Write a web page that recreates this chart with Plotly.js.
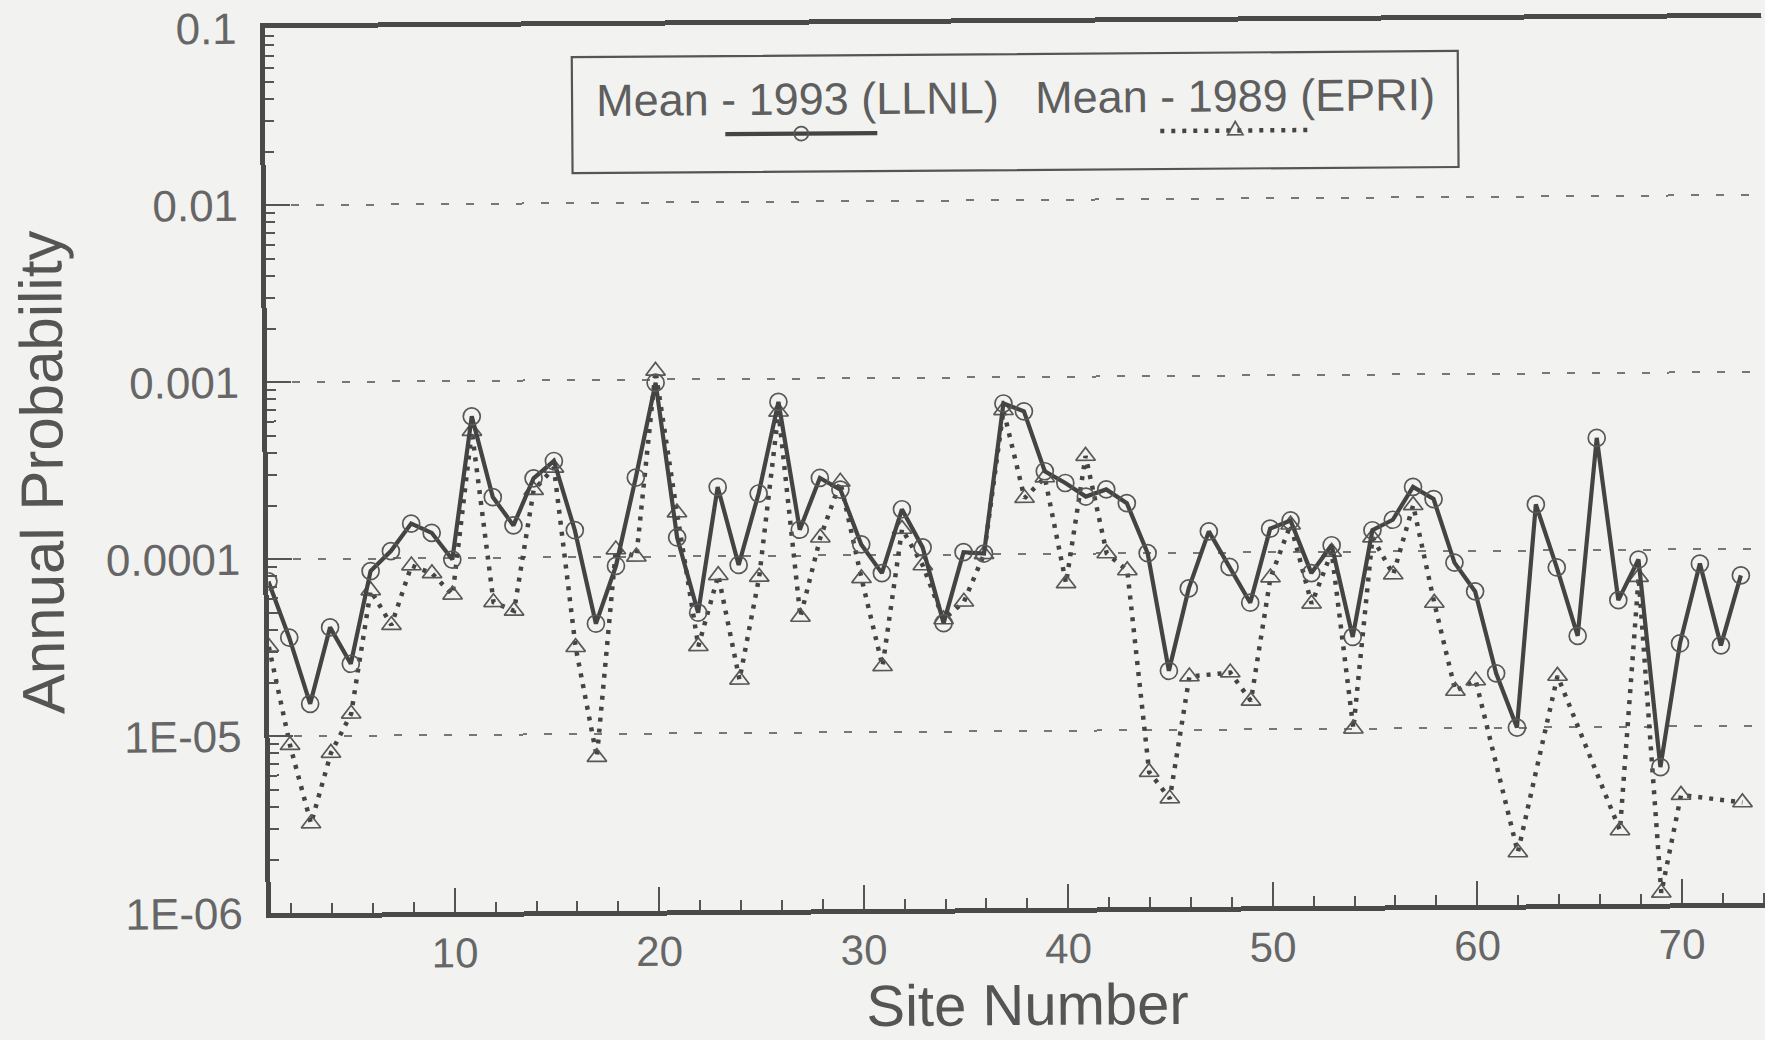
<!DOCTYPE html>
<html>
<head>
<meta charset="utf-8">
<script src="https://cdn.plot.ly/plotly-3.0.1.min.js"></script>
<style>
  html, body { margin: 0; padding: 0; background: #f2f2f0; overflow: hidden; }
  /* the printed figure sits a little askew on the page */
  #chart { width: 1765px; height: 1040px; transform: rotate(-0.4deg); transform-origin: 50% 50%; }
</style>
</head>
<body>
<div id="chart"></div>
<script>
// Site numbers along the horizontal axis
const sites = [
  1, 2, 3, 4, 5, 6, 7, 8, 9, 10, 11, 12, 13, 14, 15, 16, 17, 18, 19, 20,
  21, 22, 23, 24, 25, 26, 27, 28, 29, 30, 31, 32, 33, 34, 35, 36, 37, 38, 39, 40,
  41, 42, 43, 44, 45, 46, 47, 48, 49, 50, 51, 52, 53, 54, 55, 56, 57, 58, 59, 60,
  61, 62, 63, 64, 65, 66, 67, 68, 69, 70, 71, 72, 73
];

// Mean annual probability, 1993 LLNL study
const meanLLNL1993 = [
  7.5e-5, 3.6e-5, 1.52e-5, 4.1e-5, 2.55e-5, 8.5e-5, 1.1e-4, 1.57e-4, 1.39e-4, 9.8e-5,
  6.3e-4, 2.2e-4, 1.52e-4, 2.8e-4, 3.5e-4, 1.42e-4, 4.2e-5, 8.9e-5, 2.8e-4, 9.6e-4,
  1.28e-4, 4.8e-5, 2.46e-4, 8.9e-5, 2.25e-4, 7.4e-4, 1.4e-4, 2.74e-4, 2.35e-4, 1.15e-4,
  7.9e-5, 1.81e-4, 1.1e-4, 4.1e-5, 1.03e-4, 1.01e-4, 7.1e-4, 6.4e-4, 2.93e-4, 2.51e-4,
  2.1e-4, 2.3e-4, 1.92e-4, 1.0e-4, 2.16e-5, 6.3e-5, 1.32e-4, 8.3e-5, 5.2e-5, 1.36e-4,
  1.51e-4, 7.6e-5, 1.09e-4, 3.3e-5, 1.32e-4, 1.51e-4, 2.31e-4, 1.97e-4, 8.6e-5, 5.9e-5,
  2.03e-5, 1.0e-5, 1.82e-4, 8.0e-5, 3.28e-5, 4.3e-4, 5.2e-5, 8.8e-5, 5.9e-6, 2.95e-5,
  8.3e-5, 2.86e-5, 7.1e-5
];

// Mean annual probability, 1989 EPRI study (null = no value for that site)
const meanEPRI1989 = [
  3.2e-5, 8.9e-6, 3.2e-6, 8.0e-6, 1.33e-5, 6.6e-5, 4.2e-5, 9.1e-5, 8.2e-5, 6.2e-5,
  5.2e-4, 5.6e-5, 5.0e-5, 2.4e-4, 3.2e-4, 3.1e-5, 7.4e-6, 1.1e-4, 1.0e-4, 1.12e-3,
  1.77e-4, 3.1e-5, 7.8e-5, 2.0e-5, 7.6e-5, 6.5e-4, 4.5e-5, 1.26e-4, 2.6e-4, 7.4e-5,
  2.35e-5, 1.4e-4, 8.7e-5, 4.3e-5, 5.4e-5, 1.0e-4, 6.5e-4, 2.07e-4, 2.7e-4, 6.8e-5,
  3.56e-4, 1.0e-4, 8.0e-5, 5.8e-6, 4.1e-6, 2.0e-5, null, 2.1e-5, 1.45e-5, 7.2e-5,
  1.43e-4, 5.1e-5, 1.0e-4, 1.0e-5, 1.2e-4, 7.4e-5, 1.82e-4, 5.1e-5, 1.62e-5, 1.85e-5,
  null, 1.97e-6, null, 1.95e-5, null, null, 2.6e-6, 7.0e-5, 1.15e-6, 4.1e-6,
  null, null, 3.7e-6
];

// Axis tick labels
const yTickValues = [1e-6, 1e-5, 1e-4, 1e-3, 1e-2, 1e-1];
const yTickLabels = ['1E-06', '1E-05', '0.0001', '0.001', '0.01', '0.1'];
const xTickValues = [10, 20, 30, 40, 50, 60, 70];
const xTickLabels = ['10', '20', '30', '40', '50', '60', '70'];

const seriesNames = ['Mean - 1993 (LLNL)', 'Mean - 1989 (EPRI)'];
const xTitle = 'Site Number';
const yTitle = 'Annual Probability';

// minor log ticks 2..9 within every decade
const yMinorValues = [];
for (let e = -6; e < -1; e++) {
  for (let m = 2; m <= 9; m++) yMinorValues.push(m * Math.pow(10, e));
}

// plot-area geometry in pixels
const W = 1765, H = 1040;
const M = { l: 268, r: 0, t: 24, b: 131 };
const plotW = W - M.l - M.r, plotH = H - M.t - M.b;
const px = x => (x - M.l) / plotW;          // pixel -> paper x
const py = y => (H - M.b - y) / plotH;      // pixel -> paper y

const ink = '#444444';
const markInk = '#585858';
const textInk = '#666666';
const fontFamily = 'Liberation Sans, Arial, Helvetica, sans-serif';
const epriDash = '4px,7px';

const traces = [
  {
    x: sites, y: meanEPRI1989, name: seriesNames[1],
    type: 'scatter', mode: 'lines+markers', connectgaps: true,
    line: { color: ink, width: 4.5, dash: epriDash },
    marker: { symbol: 'triangle-up-open', size: 17, color: markInk, line: { width: 1.7, color: markInk } },
    showlegend: false, hoverinfo: 'x+y'
  },
  {
    x: sites, y: meanLLNL1993, name: seriesNames[0],
    type: 'scatter', mode: 'lines+markers',
    line: { color: ink, width: 4.2 },
    marker: { symbol: 'circle-open', size: 17, color: markInk, line: { width: 1.7, color: markInk } },
    showlegend: false, hoverinfo: 'x+y'
  }
];

// legend: framed box with names above line samples
const legBox = { x0: 575, y0: 55, x1: 1461, y1: 171 };
const sampleY = 133;
const llnlSample = { x0: 728, x1: 880, xm: 804 };
const epriSample = { x0: 1163, x1: 1315, xm: 1238 };

function trianglePath(cx, cy, r) {
  const a = [px(cx), py(cy - r)];
  const b = [px(cx - r * 0.95), py(cy + r * 0.65)];
  const c = [px(cx + r * 0.95), py(cy + r * 0.65)];
  return `M ${a[0]} ${a[1]} L ${b[0]} ${b[1]} L ${c[0]} ${c[1]} Z`;
}

const shapes = [
  { type: 'rect', xref: 'paper', yref: 'paper',
    x0: px(legBox.x0), x1: px(legBox.x1), y0: py(legBox.y1), y1: py(legBox.y0),
    line: { color: '#555555', width: 2.2 }, fillcolor: 'rgba(0,0,0,0)' },
  { type: 'line', xref: 'paper', yref: 'paper',
    x0: px(llnlSample.x0), x1: px(llnlSample.x1), y0: py(sampleY), y1: py(sampleY),
    line: { color: ink, width: 4.2 } },
  { type: 'circle', xref: 'paper', yref: 'paper',
    x0: px(llnlSample.xm - 7), x1: px(llnlSample.xm + 7), y0: py(sampleY + 7), y1: py(sampleY - 7),
    line: { color: markInk, width: 1.7 } },
  { type: 'line', xref: 'paper', yref: 'paper',
    x0: px(epriSample.x0), x1: px(epriSample.x1), y0: py(sampleY), y1: py(sampleY),
    line: { color: ink, width: 4.5, dash: epriDash } },
  { type: 'path', xref: 'paper', yref: 'paper',
    path: trianglePath(epriSample.xm, sampleY - 1, 8),
    line: { color: markInk, width: 1.7 } }
];

const legendFont = { family: fontFamily, size: 45, color: '#5e5e5e' };
const annotations = [
  { xref: 'paper', yref: 'paper', x: px(800), y: py(98), text: seriesNames[0],
    showarrow: false, xanchor: 'center', yanchor: 'middle', font: legendFont },
  { xref: 'paper', yref: 'paper', x: px(1238), y: py(98), text: seriesNames[1],
    showarrow: false, xanchor: 'center', yanchor: 'middle', font: legendFont },
  // horizontal axis title, set close to the lower edge
  { xref: 'paper', yref: 'paper', x: px(1024), y: py(1006), text: xTitle,
    showarrow: false, xanchor: 'center', yanchor: 'middle', borderpad: 0,
    font: { family: fontFamily, size: 58, color: '#555' } }
];

const layout = {
  width: W, height: H,
  margin: M,
  paper_bgcolor: '#f2f2f0',
  plot_bgcolor: '#f2f2f0',
  showlegend: false,
  font: { family: fontFamily, color: textInk },
  xaxis: {
    range: [1, 74.2],
    tickmode: 'array', tickvals: xTickValues, ticktext: xTickLabels,
    ticks: 'inside', ticklen: 24, tickwidth: 2, tickcolor: '#555',
    minor: { tickmode: 'linear', tick0: 0, dtick: 2, ticks: 'inside', ticklen: 10, tickwidth: 2, tickcolor: '#555', showgrid: false },
    showline: true, linecolor: '#4a4a4a', linewidth: 5, mirror: true,
    showgrid: false, zeroline: false,
    tickfont: { family: fontFamily, size: 42, color: textInk },
    ticklabelstandoff: 0
  },
  yaxis: {
    type: 'log', range: [-6, -1],
    tickmode: 'array', tickvals: yTickValues, ticktext: yTickLabels,
    ticks: 'inside', ticklen: 24, tickwidth: 2, tickcolor: '#555',
    minor: { tickmode: 'array', tickvals: yMinorValues, ticks: 'inside', ticklen: 9, tickwidth: 2, tickcolor: '#555', showgrid: false },
    showline: true, linecolor: '#4a4a4a', linewidth: 5, mirror: false,
    showgrid: true, gridcolor: '#777', gridwidth: 2, griddash: '8px,17px',
    zeroline: false,
    tickfont: { family: fontFamily, size: 44, color: textInk },
    ticklabelstandoff: 14,
    ticklabeloverflow: 'allow',
    title: { text: yTitle, font: { family: fontFamily, size: 60, color: '#555' }, standoff: 24 }
  },
  shapes: shapes,
  annotations: annotations
};

Plotly.newPlot('chart', traces, layout, { displayModeBar: false, staticPlot: true });
</script>
</body>
</html>
